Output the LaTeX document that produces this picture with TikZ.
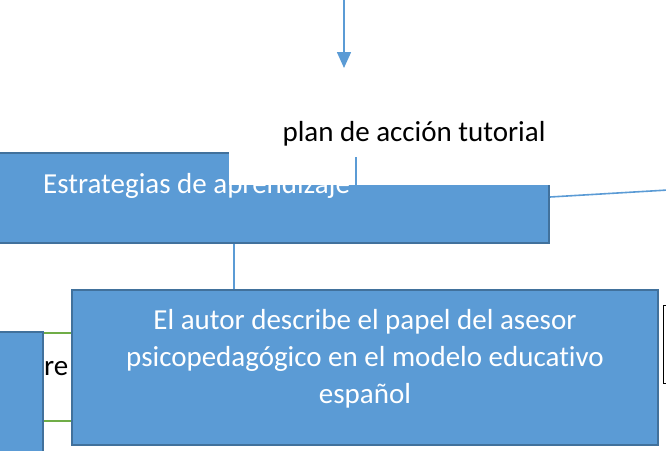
\documentclass[tikz,border=0pt]{standalone}
\usepackage{fontspec}
\setmainfont[Ligatures=NoCommon]{Carlito}
\usetikzlibrary{arrows.meta}
\definecolor{boxblue}{HTML}{5B9BD5}
\definecolor{boxedge}{HTML}{41719C}
\definecolor{linkgreen}{HTML}{70AD47}
\begin{document}
\begin{tikzpicture}[x=1pt, y=-1pt,
  bluebox/.style={draw=boxedge, line width=2pt, fill=boxblue, inner sep=0pt},
  link/.style={boxblue, line width=1.6pt},
  greenlink/.style={linkgreen, line width=1.6pt},
  bigtext/.style={font=\fontsize{29}{37}\selectfont}]
\useasboundingbox (0,0) rectangle (666,450);
\clip (0,0) rectangle (666,450);
\node[bluebox, minimum width=559pt, minimum height=90pt] (estr) at (269.5,198) {};
\fill[white] (229,90) rectangle (640,185);
\node[bigtext, anchor=west, text=white, inner sep=0pt] (estrtext) at (43,186) {Estrategias de aprendizaje};
\node[bigtext, anchor=center] (plan) at (414,134) {plan de acción tutorial};
\coordinate (plantop) at (344,-5);
\coordinate (plantip) at (344,68);
\draw[link, -{Triangle[width=14pt,length=16pt]}] (plantop) -- (plantip);
\coordinate (planfoot) at (356,157);
\draw[link] (planfoot) -- (planfoot |- 0,185);
\coordinate (rightend) at (668,190);
\draw[link] (estr.east |- 0,197) -- (rightend);
\node[bluebox, minimum width=53pt, minimum height=130pt] (left) at (16.5,397) {};
\node[bigtext, anchor=west, inner sep=0pt] (lefttext) at (44,369) {re};
\node[bluebox, minimum width=586pt, minimum height=155pt] (autor) at (365,367.5) {};
\node[bigtext, text=white, align=center] (autortext) at (365,359)
  {El autor describe el papel del asesor\\psicopedagógico en el modelo educativo\\español};
\draw[greenlink] (left.east |- 0,333) -- (autor.west |- 0,333);
\draw[greenlink] (left.east |- 0,421) -- (autor.west |- 0,421);
\draw[link] (estr.south -| 234,0) -- (autor.north -| 234,0);
\node[draw=black, line width=1.2pt, fill=white, minimum width=40pt, minimum height=78pt, anchor=north west] (rightbox) at (663,305) {};
\end{tikzpicture}
\end{document}
